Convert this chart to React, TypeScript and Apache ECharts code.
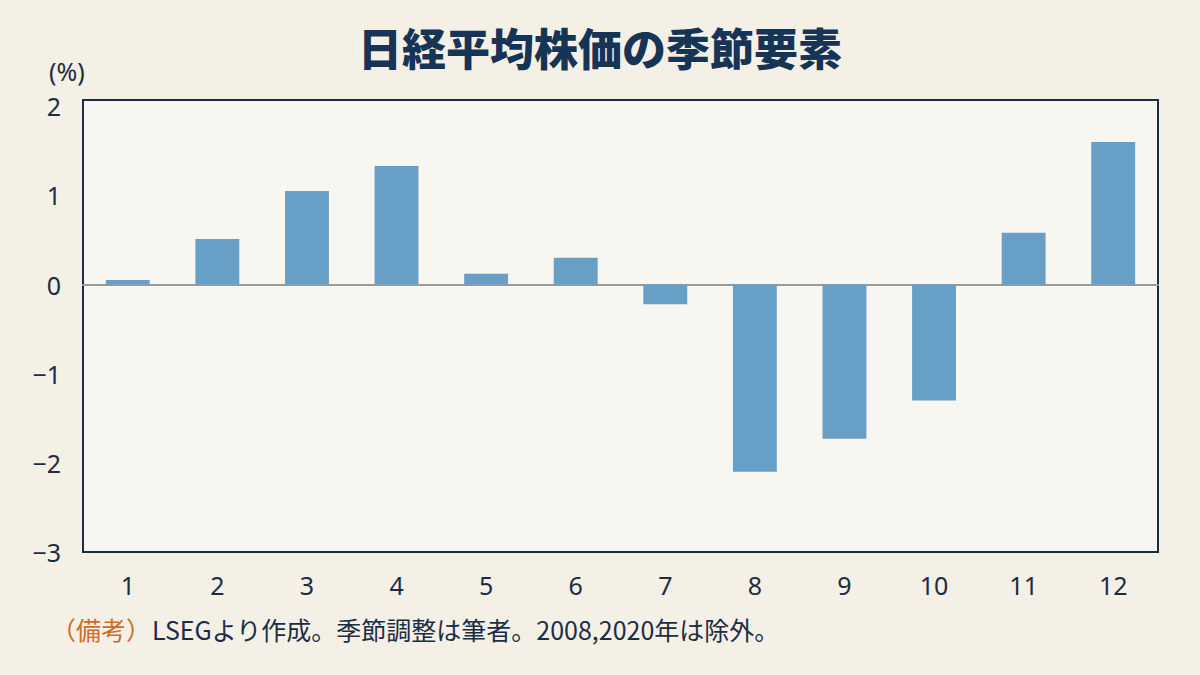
import React, { useEffect, useRef } from "react";
import * as echarts from "echarts";

const months = ["1", "2", "3", "4", "5", "6", "7", "8", "9", "10", "11", "12"];
const seasonal = [0.05, 0.51, 1.05, 1.33, 0.12, 0.3, -0.22, -2.1, -1.73, -1.3, 0.58, 1.6];
const yTicks = [-3, -2, -1, 0, 1, 2];

const titleText = "日経平均株価の季節要素";
const unitText = "(%)";
const noteLabel = "（備考）";
const noteText = "LSEGより作成。季節調整は筆者。2008,2020年は除外。";

const NAVY = "#1b2d45";

export default function App() {
  const ref = useRef<HTMLDivElement>(null);
  useEffect(() => {
    if (!ref.current) return;
    const chart = echarts.init(ref.current, undefined, { renderer: "svg" });
    chart.setOption({
      animation: false,
      backgroundColor: "#f4f0e6",
      title: {
        text: titleText,
        left: "center",
        top: 20,
        textStyle: {
          fontFamily: "Noto Sans CJK JP",
          fontSize: 44,
          fontWeight: 900,
          color: "#163456",
        },
      },
      grid: {
        left: 83,
        right: 42,
        top: 100,
        bottom: 123,
        show: true,
        backgroundColor: "#f8f6f1",
        borderColor: NAVY,
        borderWidth: 2,
      },
      xAxis: [
        {
          type: "category",
          data: months,
          position: "bottom",
          axisLine: { show: false, onZero: false },
          axisTick: { show: false },
          axisLabel: {
            margin: 20,
            fontSize: 25,
            fontFamily: "Noto Sans",
            color: NAVY,
          },
        },
        {
          type: "category",
          data: months,
          position: "bottom",
          axisLine: { show: true, onZero: true, lineStyle: { color: "#9a9a9a", width: 2 } },
          axisTick: { show: false },
          axisLabel: { show: false },
        },
      ],
      yAxis: {
        type: "value",
        min: -3,
        max: 2.07,
        interval: 1,
        axisLine: { show: false },
        axisTick: { show: false },
        splitLine: { show: false },
        axisLabel: {
          margin: 22,
          fontSize: 25,
          fontFamily: "Noto Sans",
          color: NAVY,
          formatter: (v: number) => {
            if (!yTicks.includes(v)) return "";
            return v < 0 ? "\u2212" + Math.abs(v) : String(v);
          },
        },
      },
      series: [
        {
          type: "bar",
          xAxisIndex: 0,
          data: seasonal,
          barWidth: "49%",
          itemStyle: { color: "#689fc6" },
          z: 3,
        },
      ],
      graphic: [
        {
          type: "text",
          left: 49,
          top: 58,
          style: {
            text: unitText,
            fontSize: 25,
            fontFamily: "Noto Sans",
            fill: NAVY,
          },
        },
        {
          type: "text",
          left: 51,
          top: 616,
          style: {
            text: noteLabel,
            fontSize: 25,
            fontFamily: "Noto Sans CJK JP",
            fill: "#d06a26",
          },
        },
        {
          type: "text",
          left: 152,
          top: 616,
          style: {
            text: noteText,
            fontSize: 25,
            fontFamily: "Noto Sans CJK JP",
            fill: NAVY,
          },
        },
      ],
    });
    return () => chart.dispose();
  }, []);
  return (
    <div
      ref={ref}
      style={{ position: "fixed", left: 0, top: 0, width: 1200, height: 675 }}
    />
  );
}
